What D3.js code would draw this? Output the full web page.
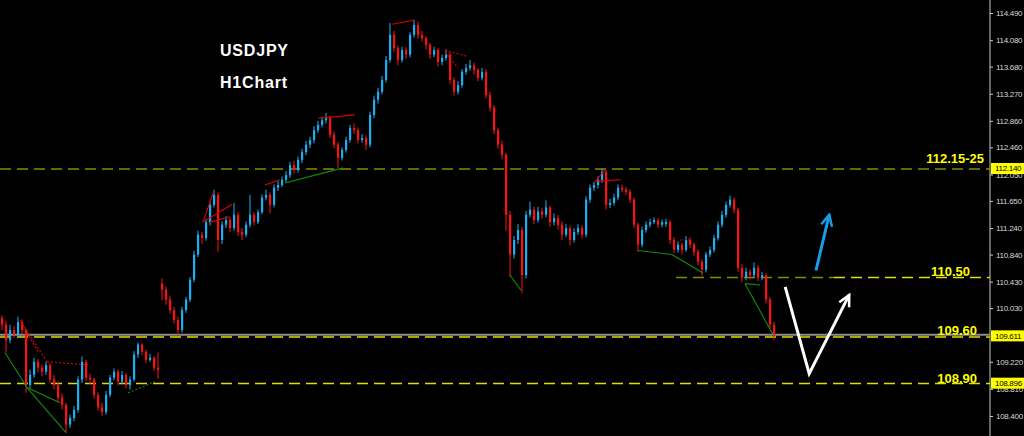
<!DOCTYPE html>
<html>
<head>
<meta charset="utf-8">
<script src="https://cdn.jsdelivr.net/npm/d3@7"></script>
<style>
  html, body { margin: 0; padding: 0; background: #000; }
  svg { display: block; }
</style>
</head>
<body>
<div id="app"></div>
<script>
'use strict'

// USDJPY H1 candles, [open, high, low, close]
const candles = [
  [109.88,109.92,109.70,109.78],[109.78,109.84,109.36,109.55],[109.55,109.78,109.50,109.70],[109.70,109.76,109.58,109.63],
  [109.63,109.90,109.60,109.82],[109.82,109.86,109.64,109.70],[109.70,109.72,108.75,108.87],[108.87,109.10,108.82,109.02],
  [109.02,109.28,108.98,109.22],[109.22,109.26,109.06,109.13],[109.13,109.18,109.00,109.07],[109.07,109.22,109.02,109.17],
  [109.17,109.20,108.90,108.95],[108.95,109.02,108.80,108.87],[108.87,108.92,108.62,108.68],[108.68,108.74,108.50,108.57],
  [108.57,108.60,108.15,108.27],[108.27,108.42,108.22,108.37],[108.37,108.55,108.32,108.49],[108.49,109.00,108.45,108.95],
  [108.95,109.30,108.90,109.22],[109.22,109.25,108.93,108.98],[108.98,109.04,108.88,108.95],[108.95,108.98,108.66,108.72],
  [108.72,108.76,108.48,108.53],[108.53,108.60,108.40,108.46],[108.46,108.78,108.42,108.72],[108.72,109.02,108.68,108.98],
  [108.98,109.12,108.94,109.07],[109.07,109.10,108.86,108.92],[108.92,109.08,108.88,109.02],[109.02,109.05,108.82,108.87],
  [108.87,109.00,108.80,108.95],[108.95,109.38,108.92,109.33],[109.33,109.51,109.28,109.48],[109.48,109.50,109.32,109.37],
  [109.37,109.40,109.20,109.25],[109.25,109.34,109.22,109.28],[109.28,109.30,109.08,109.13],[109.13,109.36,108.96,109.10],
  // weekly gap
  [110.40,110.48,110.15,110.31],[110.31,110.36,110.08,110.16],[110.16,110.22,109.95,110.00],[110.00,110.05,109.80,109.85],
  [109.85,109.90,109.62,109.70],[109.70,110.05,109.66,110.00],[110.00,110.20,109.96,110.16],[110.16,110.50,110.12,110.46],
  [110.46,110.90,110.42,110.84],[110.84,111.20,110.80,111.14],[111.14,111.18,111.00,111.09],[111.09,111.38,111.05,111.33],
  [111.33,111.65,111.28,111.59],[111.59,111.82,111.55,111.74],[111.74,111.78,110.88,111.06],[111.06,111.34,111.00,111.29],
  [111.29,111.42,111.24,111.36],[111.36,111.40,111.18,111.24],[111.24,111.62,111.20,111.44],[111.44,111.48,111.12,111.18],
  [111.18,111.24,111.06,111.14],[111.14,111.34,111.10,111.29],[111.29,111.74,111.25,111.44],[111.44,111.48,111.28,111.33],
  [111.33,111.52,111.30,111.48],[111.48,111.75,111.45,111.70],[111.70,111.82,111.66,111.74],[111.74,111.78,111.46,111.59],
  [111.59,111.90,111.55,111.85],[111.85,111.95,111.80,111.89],[111.89,112.02,111.86,111.97],
  [111.97,112.10,111.93,112.04],[112.04,112.24,112.00,112.19],[112.19,112.26,112.06,112.12],[112.12,112.32,112.08,112.27],
  [112.27,112.44,112.22,112.39],[112.39,112.56,112.34,112.50],[112.50,112.62,112.45,112.57],[112.57,112.78,112.52,112.72],
  [112.72,112.86,112.68,112.80],[112.80,112.92,112.76,112.87],[112.87,112.98,112.82,112.90],[112.90,112.94,112.60,112.65],
  [112.65,112.70,112.45,112.50],[112.50,112.54,112.15,112.30],[112.30,112.46,112.26,112.42],[112.42,112.62,112.38,112.57],
  [112.57,112.80,112.53,112.75],[112.75,112.82,112.66,112.72],[112.72,112.76,112.52,112.57],[112.57,112.66,112.53,112.60],
  [112.60,112.64,112.42,112.50],[112.50,113.00,112.46,112.95],[112.95,113.24,112.90,113.18],[113.18,113.36,113.12,113.30],
  [113.30,113.54,113.26,113.48],[113.48,113.84,113.44,113.78],[113.78,114.34,113.74,114.16],[114.16,114.22,113.90,113.96],
  [113.96,114.00,113.70,113.78],[113.78,113.98,113.74,113.93],[113.93,113.97,113.80,113.86],[113.86,114.20,113.82,114.16],
  [114.16,114.39,114.12,114.31],[114.31,114.36,114.10,114.16],[114.16,114.22,114.06,114.11],[114.11,114.14,113.94,114.01],
  [114.01,114.04,113.80,113.86],[113.86,113.98,113.82,113.93],[113.93,113.96,113.68,113.75],[113.75,113.86,113.70,113.81],
  [113.81,113.94,113.77,113.86],[113.86,113.90,113.42,113.48],[113.48,113.52,113.24,113.30],[113.30,113.46,113.26,113.40],
  [113.40,113.64,113.36,113.60],[113.60,113.72,113.56,113.66],[113.66,113.78,113.62,113.70],[113.70,113.74,113.56,113.63],
  [113.63,113.66,113.46,113.51],[113.51,113.66,113.47,113.60],[113.60,113.64,113.20,113.25],[113.25,113.30,113.00,113.06],
  [113.06,113.10,112.66,112.72],[112.72,112.76,112.44,112.50],[112.50,112.56,112.28,112.35],
  [112.35,112.38,111.20,111.44],[111.44,111.50,110.50,110.84],[110.84,111.12,110.78,111.06],[111.06,111.30,111.00,111.21],
  [111.21,111.26,110.26,110.53],[110.53,111.50,110.48,111.44],[111.44,111.64,111.40,111.52],[111.52,111.56,111.30,111.36],
  [111.36,111.56,111.32,111.49],[111.49,111.54,111.38,111.44],[111.44,111.66,111.40,111.55],[111.55,111.58,111.26,111.33],
  [111.33,111.46,111.28,111.39],[111.39,111.44,111.22,111.29],[111.29,111.34,111.06,111.14],[111.14,111.30,111.10,111.24],
  [111.24,111.28,110.98,111.06],[111.06,111.24,111.02,111.18],[111.18,111.30,111.14,111.24],[111.24,111.28,111.08,111.14],
  [111.14,111.72,111.10,111.67],[111.67,111.90,111.62,111.85],[111.85,111.94,111.80,111.89],[111.89,112.02,111.84,111.97],
  [111.97,112.14,111.92,112.09],[112.09,112.12,111.52,111.59],[111.59,111.68,111.54,111.62],[111.62,111.76,111.58,111.70],
  [111.70,111.90,111.66,111.85],[111.85,111.90,111.78,111.82],[111.82,111.86,111.74,111.79],[111.79,111.82,111.62,111.67],
  [111.67,111.70,111.24,111.29],[111.29,111.32,110.88,110.99],[110.99,111.26,110.95,111.21],[111.21,111.34,111.17,111.29],
  [111.29,111.38,111.25,111.33],[111.33,111.40,111.30,111.36],[111.36,111.39,111.24,111.29],[111.29,111.37,111.25,111.33],
  [111.30,111.38,111.26,111.33],[111.33,111.36,111.00,111.06],[111.06,111.10,110.86,110.91],[110.91,111.04,110.87,110.99],
  [110.99,111.02,110.84,110.91],[110.91,111.12,110.88,111.06],[111.06,111.10,110.94,110.99],[110.99,111.02,110.82,110.88],
  [110.88,110.92,110.68,110.73],[110.73,110.77,110.52,110.61],[110.61,110.88,110.57,110.84],[110.84,110.96,110.80,110.91],
  [110.91,111.14,110.87,111.09],[111.09,111.34,111.05,111.29],[111.29,111.50,111.25,111.44],[111.44,111.64,111.40,111.59],
  [111.59,111.73,111.55,111.67],[111.67,111.70,111.46,111.52],[111.52,111.55,110.58,110.64],[110.64,110.70,110.42,110.49],
  [110.49,110.64,110.45,110.58],[110.58,110.62,110.46,110.53],[110.53,110.72,110.49,110.64],[110.64,110.68,110.44,110.49],
  [110.49,110.58,110.45,110.53],[110.53,110.56,110.10,110.16],[110.16,110.20,109.72,109.78],[109.78,109.82,109.55,109.63]
];

// price scale tick labels (109.630 sits under the bid tag)
const tickValues = [114.490, 114.080, 113.680, 113.270, 112.860, 112.460, 112.050, 111.650,
                    111.240, 110.840, 110.430, 110.030, 109.220, 108.810, 108.400];

// yellow price tags on the scale
const priceTags = [112.140, 109.611, 108.896];
const bid = 109.611;

// horizontal levels: price, first candle index (null = whole chart), last index (null = up to scale)
const levelPrices = [112.14, 110.50, 110.50, 109.60, 108.90];
const levelFrom = [null, 168.5, 208, null, null];
const levelTo = [null, 208, null, null, null];
const levelTexts = ['112.15-25', '110.50', '109.60', '108.90'];
const levelTextPrices = [112.14, 110.50, 109.60, 108.90];

// zigzag / pattern lines, [[index, price], [index, price]]
const redLines = [
  [[50.25, 111.33], [52.75, 111.77]], [[50.25, 111.33], [57.5, 111.60]], [[52, 111.33], [57, 111.41]],
  [[65.75, 111.89], [69.5, 111.97]], [[79, 112.90], [88.25, 112.95]], [[97.5, 114.32], [103, 114.38]],
  [[148.25, 111.95], [154.75, 111.97]], [[148.25, 111.94], [150.75, 112.12]]
];
const redDotted = [
  [[4.5, 109.85], [11.25, 109.22]], [[4.75, 109.82], [9, 109.37]], [[11.25, 109.22], [21.5, 109.17]],
  [[110.75, 113.93], [116.5, 113.83]], [[110.75, 113.90], [114, 113.66]], [[169.5, 111.06], [172.5, 111.06]]
];
const greenLines = [
  [[0.75, 109.36], [6.25, 108.83]], [[6.25, 108.83], [14.5, 108.60]], [[6.25, 108.83], [16, 108.15]],
  [[127, 110.53], [129.75, 110.30]], [[159, 110.90], [167.5, 110.84]], [[167.5, 110.84], [175.25, 110.56]],
  [[185.75, 110.40], [189.5, 110.38]], [[185.75, 110.40], [192.75, 109.63]], [[70.75, 111.92], [85.25, 112.15]]
];
const greenDotted = [
  [[31.5, 108.75], [38.25, 108.92]]
];

// hand drawn arrows, [index, price]
const blueArrow = [[203.5, 110.60], [206.8, 111.44]];
const whiteArrow = [[195.8, 110.35], [201.8, 109.04], [211.8, 110.23]];


let width = 1024;
let height = 436;
let axisX = 990;
let step = 4;
let font = '"Liberation Sans", Arial, sans-serif';

let svg = (
  d3.select('#app')
    .append('svg')
    .attr('width', width)
    .attr('height', height)
    .style('background', '#000'));

let x = d3.scaleLinear().domain([-0.5, candles.length - 0.5]).range([0, candles.length * step]);
let y = d3.scaleLinear().domain([108.40, 114.49]).range([416, 13]);
let line = d3.line().x((d) => x(d[0])).y((d) => y(d[1]));

// Arrow heads
let defs = svg.append('defs');
[['head-blue', '#1a9de6'], ['head-white', '#ffffff']].forEach(([id, color]) => {
  (defs.append('marker')
    .attr('id', id)
    .attr('viewBox', '0 0 14 14')
    .attr('refX', 12)
    .attr('refY', 7)
    .attr('markerWidth', 14)
    .attr('markerHeight', 14)
    .attr('markerUnits', 'userSpaceOnUse')
    .attr('orient', 'auto')
    .append('path')
      .attr('d', 'M1,1.5 L12,7 L1,12.5')
      .attr('fill', 'none')
      .attr('stroke', color)
      .attr('stroke-width', 2.5));
});

// Draw price scale
svg.append('line')
  .attr('x1', axisX).attr('x2', axisX)
  .attr('y1', 0).attr('y2', height)
  .attr('stroke', '#c8c8c8')
  .attr('stroke-width', 1);

let axis = (
  svg.append('g')
    .attr('transform', `translate(${axisX},0)`)
    .call(d3.axisRight(y)
      .tickValues(tickValues)
      .tickSize(3)
      .tickPadding(3)
      .tickFormat(d3.format('.3f'))));
axis.select('.domain').remove();
axis.selectAll('line').attr('stroke', '#c8c8c8');
(axis.selectAll('text')
  .attr('fill', '#d8d8d8')
  .attr('font-family', font)
  .attr('font-size', '8px')
  .attr('letter-spacing', '-0.3px'));

// Draw bid line
svg.append('line')
  .attr('x1', 0).attr('x2', axisX)
  .attr('y1', y(bid) - 1).attr('y2', y(bid) - 1)
  .attr('stroke', '#8c8c8c')
  .attr('stroke-width', 2);

// Draw levels
let levelColors = ['#8a8a00', '#8a8a00', '#e0e000', '#e0e000', '#e0e000'];
(svg
  .selectAll('whatever')
    .data(levelPrices)
  .enter()
    .append('line')
      .attr('x1', (d, i) => levelFrom[i] == null ? 0 : x(levelFrom[i]))
      .attr('x2', (d, i) => levelTo[i] == null ? axisX : x(levelTo[i]))
      .attr('y1', (d) => y(d) + 0.5)
      .attr('y2', (d) => y(d) + 0.5)
      .attr('stroke', (d, i) => levelColors[i])
      .attr('stroke-width', 1.5)
      .attr('stroke-dasharray', '11,6'));

// Draw candles
let bull = '#1cb0f2';
let bear = '#ff1010';
let candle = (
  svg
    .selectAll('whatever')
      .data(candles)
    .enter()
      .append('g')
        .attr('fill', (d) => d[3] >= d[0] ? bull : bear)
        .attr('stroke', (d) => d[3] >= d[0] ? bull : bear));
(candle.append('line')
  .attr('x1', (d, i) => x(i))
  .attr('x2', (d, i) => x(i))
  .attr('y1', (d) => y(d[1]))
  .attr('y2', (d) => y(d[2]))
  .attr('stroke-width', 1));
(candle.append('rect')
  .attr('stroke', 'none')
  .attr('x', (d, i) => x(i) - 1)
  .attr('width', 2.2)
  .attr('y', (d) => y(Math.max(d[0], d[3])))
  .attr('height', (d) => Math.max(1, Math.abs(y(d[0]) - y(d[3])))));

// Draw pattern lines
let drawLines = (data, color, dash) => {
  (svg
    .selectAll('whatever')
      .data(data)
    .enter()
      .append('path')
        .attr('d', line)
        .attr('fill', 'none')
        .attr('stroke', color)
        .attr('stroke-width', 1.1)
        .attr('stroke-dasharray', dash));
};
drawLines(redLines, '#e00000', null);
drawLines(redDotted, '#e00000', '2,2');
drawLines(greenLines, '#109010', null);
drawLines(greenDotted, '#109010', '2,2');

// Draw arrows
svg.append('path')
  .attr('d', line(blueArrow))
  .attr('fill', 'none')
  .attr('stroke', '#1a9de6')
  .attr('stroke-width', 3)
  .attr('marker-end', 'url(#head-blue)');
svg.append('path')
  .attr('d', line(whiteArrow))
  .attr('fill', 'none')
  .attr('stroke', '#ffffff')
  .attr('stroke-width', 3)
  .attr('stroke-linejoin', 'miter')
  .attr('marker-end', 'url(#head-white)');

// Draw level texts
let textRight = [984, 970, 977, 977];
let textLift = [6, 1, 2, 0];
(svg
  .selectAll('whatever')
    .data(levelTexts)
  .enter()
    .append('text')
      .attr('x', (d, i) => textRight[i])
      .attr('y', (d, i) => y(levelTextPrices[i]) - textLift[i])
      .attr('text-anchor', 'end')
      .attr('fill', '#ffff00')
      .attr('font-family', font)
      .attr('font-weight', 'bold')
      .attr('font-size', '13px')
      .text((d) => d));

// Draw price tags
let tag = (
  svg
    .selectAll('whatever')
      .data(priceTags)
    .enter()
      .append('g')
        .attr('transform', (d) => `translate(${axisX + 1},${y(d)})`));
(tag.append('rect')
  .attr('x', 0)
  .attr('y', -5.5)
  .attr('width', width - axisX - 1)
  .attr('height', 11)
  .attr('fill', '#ffff00'));
(tag.append('text')
  .attr('x', 4)
  .attr('dy', '0.34em')
  .attr('fill', '#000')
  .attr('font-family', font)
  .attr('font-size', '8px')
  .attr('letter-spacing', '-0.3px')
  .text((d) => d3.format('.3f')(d)));

// Draw title
(svg
  .selectAll('whatever')
    .data(['USDJPY', 'H1Chart'])
  .enter()
    .append('text')
      .attr('x', 220)
      .attr('y', (d, i) => 56 + i * 32)
      .attr('fill', '#ffffff')
      .attr('font-family', font)
      .attr('font-weight', 'bold')
      .attr('font-size', '16px')
      .attr('letter-spacing', '0.8px')
      .text((d) => d));
</script>
</body>
</html>
